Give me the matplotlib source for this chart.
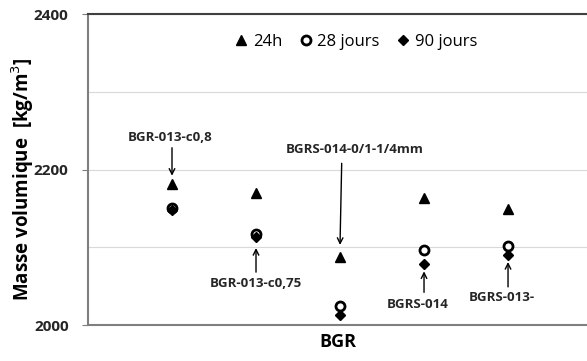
import matplotlib
matplotlib.use("Agg")
import matplotlib.pyplot as plt
from matplotlib.ticker import MultipleLocator

plt.rcParams['font.family'] = ['Open Sans', 'DejaVu Sans']

categories = ["BGR-013-c0,8", "BGR-013-c0,75", "BGRS-014-0/1-1/4mm", "BGRS-014", "BGRS-013-"]
x = [1, 2, 3, 4, 5]
v_24h = [2182, 2170, 2088, 2163, 2149]
v_28j = [2151, 2117, 2024, 2097, 2102]
v_90j = [2148, 2113, 2013, 2079, 2090]

fig = plt.figure(figsize=(5.87, 3.61), dpi=100)
ax = fig.add_axes([0.1499, 0.0997, 0.8501, 0.8614])

ax.plot(x, v_24h, linestyle='none', marker='^', color='black', markersize=7, label='24h')
ax.plot(x, v_28j, linestyle='none', marker='o', markerfacecolor='white', markeredgecolor='black',
        markeredgewidth=2, markersize=6.5, label='28 jours')
ax.plot(x, v_90j, linestyle='none', marker='D', color='black', markersize=5, label='90 jours')

ax.set_xlim(0, 5.94)
ax.set_ylim(2000, 2400)
ax.yaxis.set_major_locator(MultipleLocator(200))
ax.yaxis.set_minor_locator(MultipleLocator(100))
ax.grid(True, which='both', axis='y', color='#d9d9d9', linewidth=0.8)
ax.set_axisbelow(True)
ax.set_xticks([])
ax.tick_params(axis='y', which='major', length=4, color='#7f7f7f', labelsize=11, pad=10)
ax.tick_params(axis='y', which='minor', length=0)
for lab in ax.get_yticklabels():
    lab.set_fontweight('bold')
    lab.set_color('#262626')

for side in ['left', 'bottom', 'top']:
    ax.spines[side].set_color('#7f7f7f')
    ax.spines[side].set_linewidth(1.5)
ax.spines['top'].set_color('#404040')
ax.spines['right'].set_visible(False)

ax.set_ylabel("Masse volumique  [kg/m$^3$]", fontsize=13.5, fontweight='bold')
ax.yaxis.set_label_coords(-0.104, 0.47)
ax.set_xlabel("BGR", fontsize=13, fontweight='bold', labelpad=6)

ax.legend(loc='upper center', bbox_to_anchor=(0.535, 0.985), ncol=3, frameon=False,
          fontsize=12, handletextpad=0.2, columnspacing=0.9, handlelength=1.0)

arrow = dict(arrowstyle='->', color='black', lw=1.0, shrinkA=0, shrinkB=0)
fs = 9.5
label_pos = [(0.98, 2241), (2.0, 2054), (3.17, 2226), (3.93, 2026), (4.93, 2035)]
arrow_from = [(1.0, 2228), (2.0, 2068), (3.02, 2208), (4.0, 2042), (5.0, 2049)]
arrow_to = [(1.0, 2192), (2.0, 2099), (3.0, 2103), (4.0, 2069), (5.0, 2081)]
for name, (tx, ty), a0, a1 in zip(categories, label_pos, arrow_from, arrow_to):
    ax.text(tx, ty, name, ha='center', va='center', fontsize=fs, fontweight='bold',
            color='#262626')
    ax.annotate('', xy=a1, xytext=a0, arrowprops=arrow)

fig.savefig("out.png", dpi=100)
